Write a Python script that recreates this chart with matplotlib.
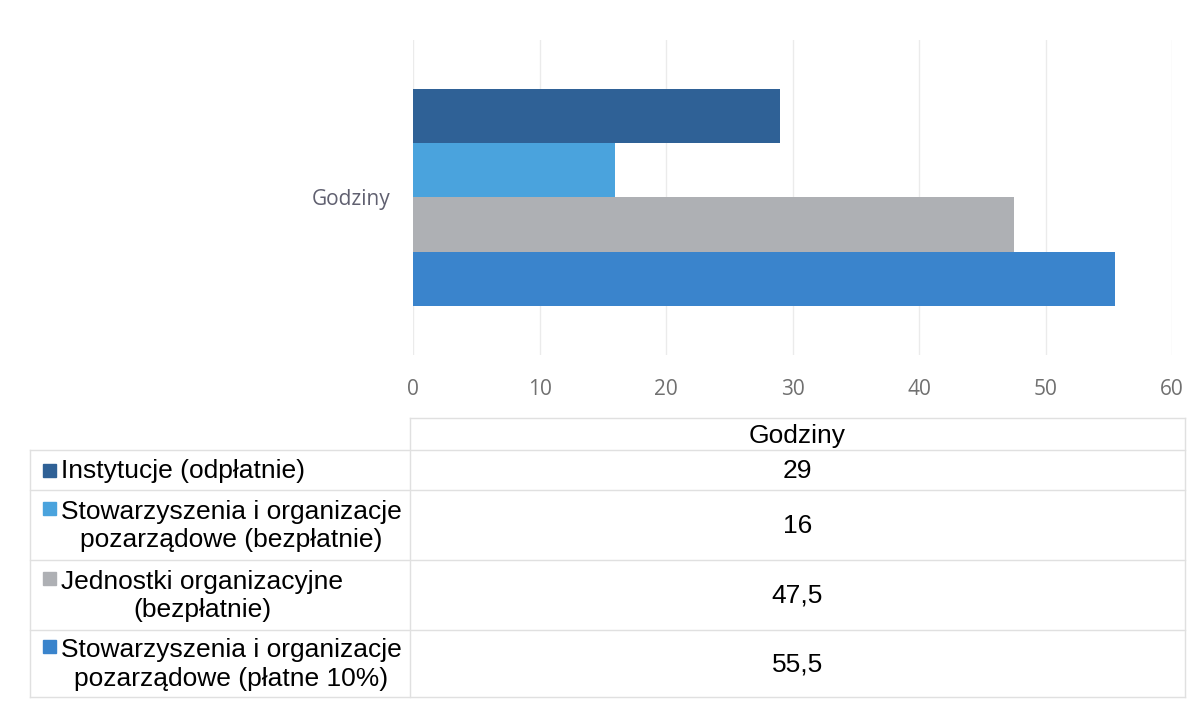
import matplotlib.pyplot as plt

# data
category = "Godziny"
series_labels = [
    "Instytucje (odpłatnie)",
    "Stowarzyszenia i organizacje\npozarządowe (bezpłatnie)",
    "Jednostki organizacyjne\n(bezpłatnie)",
    "Stowarzyszenia i organizacje\npozarządowe (płatne 10%)",
]
values = [29, 16, 47.5, 55.5]
value_labels = ["29", "16", "47,5", "55,5"]
colors = ["#2f6196", "#4aa3dd", "#aeb0b4", "#3a84cc"]
x_ticks = [0, 10, 20, 30, 40, 50, 60]

W, H = 1202, 721
fig = plt.figure(figsize=(W / 100, H / 100), dpi=100)

# --- bar chart ---
ax = fig.add_axes([413 / W, 1 - 355 / H, (1172 - 413) / W, (355 - 40) / H])
bar_h = 0.343
n = len(values)
for i, (v, c) in enumerate(zip(values, colors)):
    y = (n - 1) / 2 * bar_h - i * bar_h
    ax.barh(y, v, height=bar_h, color=c, zorder=2)

ax.set_xlim(0, 60)
ax.set_ylim(-1, 1)
ax.set_xticks(x_ticks)
ax.set_xticklabels([str(t) for t in x_ticks], fontsize=15, color="#707070",
                   family="Open Sans")
ax.set_yticks([0])
ax.set_yticklabels([category], fontsize=15, color="#606070", family="Open Sans")
ax.tick_params(axis="x", length=0, pad=17)
ax.tick_params(axis="y", length=0, pad=16.5)
ax.grid(axis="x", color="#ebebeb", linewidth=1, zorder=0)
for s in ax.spines.values():
    s.set_visible(False)

# --- data table below ---
tab = fig.add_axes([0, 0, 1, 1])
tab.set_xlim(0, W)
tab.set_ylim(H, 0)
tab.axis("off")

line_c = "#e0e0e0"
x_left, x_mid, x_right = 30, 410, 1185
rows = [450, 490, 560, 630, 697]

tab.plot([x_mid, x_right], [418, 418], color=line_c, lw=1)
for y in rows:
    tab.plot([x_left, x_right], [y, y], color=line_c, lw=1)
tab.plot([x_left, x_left], [rows[0], rows[-1]], color=line_c, lw=1)
tab.plot([x_mid, x_mid], [418, rows[-1]], color=line_c, lw=1)
tab.plot([x_right, x_right], [418, rows[-1]], color=line_c, lw=1)

xc = (x_mid + x_right) / 2
tab.text(xc, 436, category, ha="center", va="center", fontsize=19,
         family="Liberation Sans", color="black")

for i in range(n):
    yc = (rows[i] + rows[i + 1]) / 2
    two = "\n" in series_labels[i]
    tab.add_patch(plt.Rectangle((43, yc - 6.5 - (17 if two else 0)),
                                13, 13, color=colors[i]))
    tab.text(61, yc + 1, series_labels[i], ha="left", va="center", fontsize=19,
             family="Liberation Sans", multialignment="center",
             linespacing=1.25, color="black")
    tab.text(xc, yc + 1, value_labels[i], ha="center", va="center", fontsize=19,
             family="Liberation Sans", color="black")

fig.savefig("out.png", dpi=100)
